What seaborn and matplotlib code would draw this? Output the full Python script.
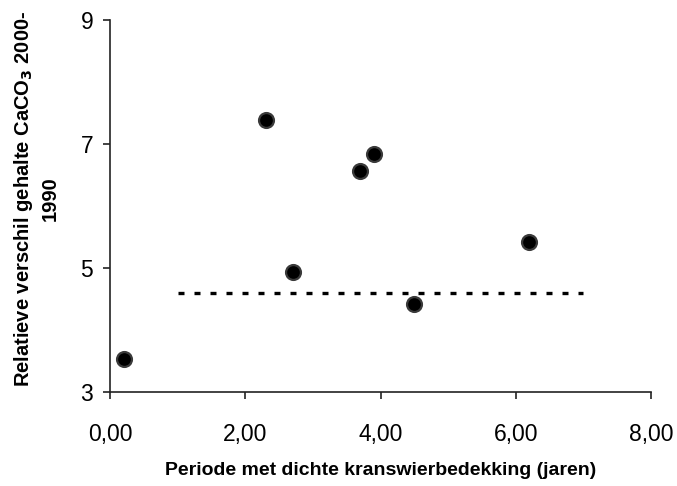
import matplotlib
matplotlib.use("Agg")
import matplotlib.pyplot as plt
import seaborn as sns
import pandas as pd
from matplotlib.ticker import FuncFormatter

# data
periode = [0.20, 2.30, 2.70, 3.70, 3.90, 4.50, 6.20]
verschil = [3.54, 7.38, 4.94, 6.57, 6.84, 4.42, 5.42]
ref_x = [1.0, 7.0]
ref_y = [4.6, 4.6]
x_ticks = [0, 2, 4, 6, 8]
y_ticks = [3, 5, 7, 9]

sns.set_theme(style="white")
plt.rcParams['font.family'] = ['Liberation Sans', 'DejaVu Sans']

fig = plt.figure(figsize=(6.77, 4.86), dpi=100)
ax = fig.add_axes([110/677, 1-392/486, (651-110)/677, (392-20)/486])

df = pd.DataFrame({"x": periode, "y": verschil})
ref = pd.DataFrame({"x": ref_x, "y": ref_y})

sns.lineplot(data=ref, x="x", y="y", ax=ax, color="black", lw=2.4,
             dashes=False, legend=False)
ax.lines[-1].set_dashes((1.8, 3.0))
sns.scatterplot(data=df, x="x", y="y", ax=ax, color="black", s=115,
                edgecolor="#3a3a3a", linewidth=1.6, zorder=3, legend=False)

ax.set_xlim(0, 8)
ax.set_ylim(3, 9)
ax.set_xticks(x_ticks)
ax.set_yticks(y_ticks)
ax.xaxis.set_major_formatter(FuncFormatter(lambda v, p: f"{v:.2f}".replace(".", ",")))
ax.yaxis.set_major_formatter(FuncFormatter(lambda v, p: f"{v:.0f}"))

for s in ["top", "right"]:
    ax.spines[s].set_visible(False)
for s in ["left", "bottom"]:
    ax.spines[s].set_color("#222222")
    ax.spines[s].set_linewidth(1.2)

ax.tick_params(axis="both", direction="out", length=5, width=1.2,
               color="#222222", labelsize=16.5, labelcolor="black",
               bottom=True, left=True)
ax.tick_params(axis="x", pad=17)
ax.tick_params(axis="y", pad=7)

ax.set_xlabel("Periode met dichte kranswierbedekking (jaren)", fontsize=14,
              fontweight="bold", labelpad=12, color="black")
ax.set_ylabel("Relatieve verschil gehalte CaCO$_\\mathbf{3}$ 2000-\n1990",
              fontsize=14.5, fontweight="bold", labelpad=10, linespacing=1.4,
              color="black")
ax.yaxis.set_label_coords(-0.092, 0.52)

fig.savefig("out.png", dpi=100)
